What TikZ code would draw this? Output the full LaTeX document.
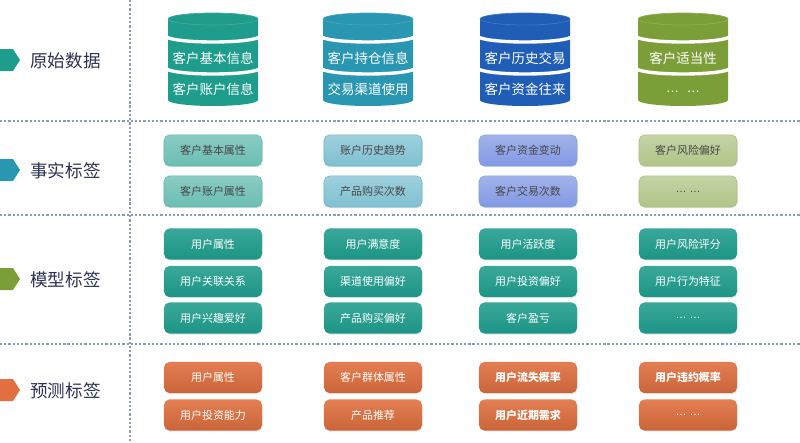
\documentclass[tikz,border=0pt]{standalone}
\usepackage{fontspec}
\setmainfont{Noto Sans CJK SC}
\newfontfamily\dotfont{Liberation Sans}
\usepackage{tikz}
\usetikzlibrary{shadows}
\usepackage{xcolor}
\definecolor{cylA}{HTML}{1E9C8C}
\definecolor{cylB}{HTML}{2996B2}
\definecolor{cylC}{HTML}{1F5DB6}
\definecolor{cylD}{HTML}{7C9E38}
\definecolor{arrD}{HTML}{E0703F}
\definecolor{labelink}{HTML}{2B3152}
\definecolor{gridline}{HTML}{8C9ABC}

\begin{document}
\begin{tikzpicture}[x=0.025cm,y=0.025cm,
  sepline/.style={gridline,line width=0.8pt,dash pattern=on 1.6pt off 1.4pt},
  rowlabel/.style={anchor=west,inner sep=0pt,text=labelink,font=\fontsize{12.5}{14}\selectfont},
  cyltext/.style={text=white,inner sep=0pt,font=\fontsize{9.6}{11}\selectfont},
  tagbox/.style={rounded corners=4pt,minimum width=2.45cm,minimum height=0.78cm,inner sep=0pt,
    font=\fontsize{7.8}{9}\selectfont,drop shadow={opacity=0.18,shadow xshift=0.4pt,shadow yshift=-0.7pt}},
  facta/.style={tagbox,draw=cylA!70,top color=cylA!52,bottom color=cylA!66,text=black!72},
  factb/.style={tagbox,draw=cylB!70,top color=cylB!45,bottom color=cylB!60,text=black!72},
  factc/.style={tagbox,draw=cylC!55,top color=blue!32!cylC!40,bottom color=blue!30!cylC!54,text=black!72},
  factd/.style={tagbox,draw=cylD!65,top color=cylD!45,bottom color=cylD!60,text=black!72},
  modeltag/.style={tagbox,top color=cylA!88,bottom color=cylA!95!black,text=white},
  predtag/.style={tagbox,top color=arrD!90,bottom color=arrD!90!black,text=white}]
\useasboundingbox (0,0) rectangle (800,-442);

% dashed grid
\draw[sepline] (130,0) -- (130,-442);
\draw[sepline] (0,-121) -- (800,-121);
\draw[sepline] (0,-215) -- (800,-215);
\draw[sepline] (0,-344) -- (800,-344);

% row labels
\fill[cylA] (0,-49) -- (13,-49) -- (20,-60) -- (13,-71) -- (0,-71) -- cycle;
\node[rowlabel] (rawlabel) at (30,-61) {原始数据};
\fill[cylB] (0,-159) -- (13,-159) -- (20,-170) -- (13,-181) -- (0,-181) -- cycle;
\node[rowlabel] (factlabel) at (30,-171) {事实标签};
\fill[cylD] (0,-268) -- (13,-268) -- (20,-279) -- (13,-290) -- (0,-290) -- cycle;
\node[rowlabel] (modellabel) at (30,-280) {模型标签};
\fill[arrD] (0,-379) -- (13,-379) -- (20,-390) -- (13,-401) -- (0,-401) -- cycle;
\node[rowlabel] (predlabel) at (30,-391) {预测标签};

% raw data cylinders
\fill[cylA] (168,-19) -- (168,-100) arc (180:360:45 and 6) -- (258,-19) arc (0:180:45 and 6) -- cycle;
\draw[cylA!85!white,line width=0.5pt] (213,-19) ellipse [x radius=45,y radius=6];
\draw[white,line width=2.4pt] (166,-36) arc (180:360:47 and 6);
\draw[white,line width=2.4pt] (166,-68) arc (180:360:47 and 6);
\node[cyltext] (rawA1) at (213,-58) {客户基本信息};
\node[cyltext] (rawA2) at (213,-89) {客户账户信息};

\fill[cylB] (323,-19) -- (323,-100) arc (180:360:45 and 6) -- (413,-19) arc (0:180:45 and 6) -- cycle;
\draw[cylB!85!white,line width=0.5pt] (368,-19) ellipse [x radius=45,y radius=6];
\draw[white,line width=2.4pt] (321,-36) arc (180:360:47 and 6);
\draw[white,line width=2.4pt] (321,-68) arc (180:360:47 and 6);
\node[cyltext] (rawB1) at (368,-58) {客户持仓信息};
\node[cyltext] (rawB2) at (368,-89) {交易渠道使用};

\fill[cylC] (480,-19) -- (480,-100) arc (180:360:45 and 6) -- (570,-19) arc (0:180:45 and 6) -- cycle;
\draw[cylC!85!white,line width=0.5pt] (525,-19) ellipse [x radius=45,y radius=6];
\draw[white,line width=2.4pt] (478,-36) arc (180:360:47 and 6);
\draw[white,line width=2.4pt] (478,-68) arc (180:360:47 and 6);
\node[cyltext] (rawC1) at (525,-58) {客户历史交易};
\node[cyltext] (rawC2) at (525,-89) {客户资金往来};

\fill[cylD] (638,-19) -- (638,-100) arc (180:360:45 and 6) -- (728,-19) arc (0:180:45 and 6) -- cycle;
\draw[cylD!85!white,line width=0.5pt] (683,-19) ellipse [x radius=45,y radius=6];
\draw[white,line width=2.4pt] (636,-36) arc (180:360:47 and 6);
\draw[white,line width=2.4pt] (636,-68) arc (180:360:47 and 6);
\node[cyltext] (rawD1) at (683,-58) {客户适当性};
\node[cyltext,font=\dotfont\fontsize{9.6}{11}\selectfont] (rawD2) at (683,-92) {…\hspace{5pt}…};

% fact tags
\node[facta] (factA1) at (213,-150.5) {客户基本属性};
\node[facta] (factA2) at (213,-191.5) {客户账户属性};
\node[factb] (factB1) at (373,-150.5) {账户历史趋势};
\node[factb] (factB2) at (373,-191.5) {产品购买次数};
\node[factc] (factC1) at (528,-150.5) {客户资金变动};
\node[factc] (factC2) at (528,-191.5) {客户交易次数};
\node[factd] (factD1) at (688,-150.5) {客户风险偏好};
\node[factd,font=\dotfont\fontsize{7.8}{9}\selectfont] (factD2) at (688,-191.5) {… …};

% model tags
\node[modeltag] (modelA1) at (213,-244) {用户属性};
\node[modeltag] (modelA2) at (213,-281.5) {用户关联关系};
\node[modeltag] (modelA3) at (213,-318) {用户兴趣爱好};
\node[modeltag] (modelB1) at (373,-244) {用户满意度};
\node[modeltag] (modelB2) at (373,-281.5) {渠道使用偏好};
\node[modeltag] (modelB3) at (373,-318) {产品购买偏好};
\node[modeltag] (modelC1) at (528,-244) {用户活跃度};
\node[modeltag] (modelC2) at (528,-281.5) {用户投资偏好};
\node[modeltag] (modelC3) at (528,-318) {客户盈亏};
\node[modeltag] (modelD1) at (688,-244) {用户风险评分};
\node[modeltag] (modelD2) at (688,-281.5) {用户行为特征};
\node[modeltag,font=\dotfont\fontsize{7.8}{9}\selectfont] (modelD3) at (688,-318) {… …};

% prediction tags
\node[predtag] (predA1) at (213,-377.5) {用户属性};
\node[predtag] (predA2) at (213,-415) {用户投资能力};
\node[predtag] (predB1) at (373,-377.5) {客户群体属性};
\node[predtag] (predB2) at (373,-415) {产品推荐};
\node[predtag,font=\fontsize{7.8}{9}\selectfont\bfseries] (predC1) at (528,-377.5) {用户流失概率};
\node[predtag,font=\fontsize{7.8}{9}\selectfont\bfseries] (predC2) at (528,-415) {用户近期需求};
\node[predtag,font=\fontsize{7.8}{9}\selectfont\bfseries] (predD1) at (688,-377.5) {用户违约概率};
\node[predtag,font=\dotfont\fontsize{7.8}{9}\selectfont] (predD2) at (688,-415) {… …};
\end{tikzpicture}
\end{document}
